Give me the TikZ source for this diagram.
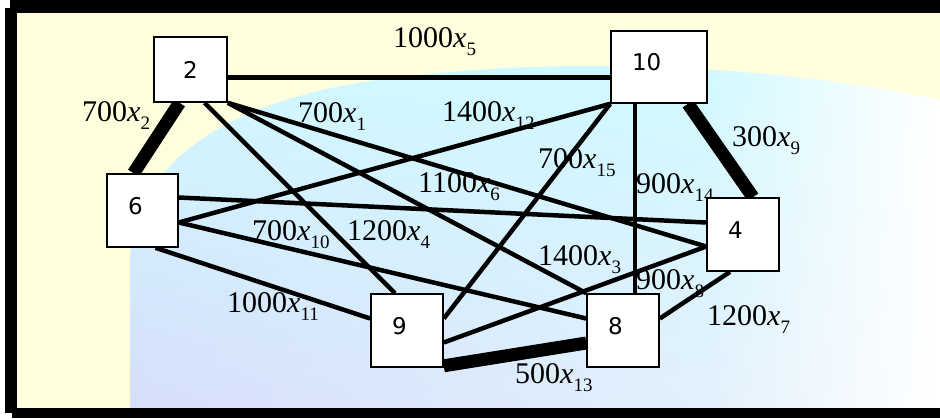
\documentclass[tikz,border=0pt]{standalone}
\usepackage{fontspec}
\setmainfont{Liberation Serif}
\newfontfamily\boxfont{DejaVu Sans}
\usepackage{tikz}
\usetikzlibrary{positioning, backgrounds, shadings}
\definecolor{paleyellow}{RGB}{255, 255, 222}
\definecolor{globecyan}{RGB}{208, 249, 255}
\definecolor{globeblue}{RGB}{214, 222, 250}
\definecolor{globemist}{RGB}{226, 240, 252}
\newcommand{\cost}[2]{#1\textit{x}\raisebox{-8pt}{\fontsize{19}{19}\selectfont #2}}

\begin{document}
\begin{tikzpicture}[x=1pt, y=-1pt,
    city/.style={rectangle, draw=black, line width=1.6pt, fill=white, inner xsep=21pt, inner ysep=0pt, text width=30pt, align=left, minimum height=73pt, text height=17pt, text depth=10pt, font=\boxfont\fontsize{23}{25}\selectfont},
    cost/.style={anchor=base west, inner sep=0pt, font=\fontsize{30}{32}\selectfont},
    line/.style={draw=black, line width=4.5pt},
    heavy/.style={draw=black, line width=13pt}]
    \useasboundingbox (0,0) rectangle (940,418);

    % edge costs
    \node [cost] (c1) at (298,122) {\cost{700}{1}};
    \node [cost] (c2) at (82,121) {\cost{700}{2}};
    \node [cost] (c3) at (538,265) {\cost{1400}{3}};
    \node [cost] (c4) at (347,240) {\cost{1200}{4}};
    \node [cost] (c5) at (393,47) {\cost{1000}{5}};
    \node [cost] (c6) at (418,192) {\cost{1100}{6}};
    \node [cost] (c7) at (707,325) {\cost{1200}{7}};
    \node [cost] (c8) at (636,289) {\cost{900}{8}};
    \node [cost] (c9) at (732,146) {\cost{300}{9}};
    \node [cost] (c10) at (252,240) {\cost{700}{10}};
    \node [cost] (c11) at (227,312) {\cost{1000}{11}};
    \node [cost] (c12) at (442,121) {\cost{1400}{12}};
    \node [cost] (c13) at (515,383) {\cost{500}{13}};
    \node [cost] (c14) at (636,193) {\cost{900}{14}};
    \node [cost] (c15) at (538,168) {\cost{700}{15}};

    % cities
    \node [city, text width=31pt, align=center, minimum height=65pt, text depth=0pt] (n2) at (190.5,69.5) {2};
    \node [city, text width=54pt, minimum height=72pt] (n10) at (659,67) {10};
    \node [city, text width=29pt] (n6) at (142.5,210.5) {6};
    \node [city] (n4) at (743,234.5) {4};
    \node [city] (n9) at (407,330.5) {9};
    \node [city, right=142.5pt of n9] (n8) {8};

    \begin{scope}[on background layer]
        \fill [white] (0,0) rectangle (940,418);
        \fill [paleyellow] (17,13) rectangle (940,408);
        \begin{scope}
            \clip (130,408) -- (130,260) .. controls (135,150) and (250,90) .. (420,75) .. controls (600,55) and (800,70) .. (940,100) -- (940,408) -- cycle;
            \fill [white] (130,40) rectangle (940,408);
            \shade [upper left=globecyan, upper right=globecyan, lower left=globeblue, lower right=globemist] (130,55) rectangle (700,408);
            \shade [upper left=globecyan, upper right=white, lower left=globemist, lower right=white] (700,55) rectangle (940,408);
        \end{scope}

        \path [line] ([yshift=-8pt]n2.east) -- ([yshift=-8pt]n2.east -| n10.west);
        \path [heavy] ([xshift=-11pt]n2.south) -- ([xshift=-9pt]n6.north);
        \path [line] ([xshift=14pt]n2.south) -- ([xshift=-12pt]n9.north);
        \path [line] (n2.south east) -- (n8.north west);
        \path [line] (n2.south east) -- ([yshift=-12pt]n4.west);
        \path [line] (n10.south west) -- ([yshift=-12pt]n6.east);
        \path [line] (n10.south west) -- ([yshift=12pt]n9.east);
        \path [line] ([xshift=-24pt]n10.south) -- ([xshift=-24pt]n10.south |- n8.north);
        \path [heavy] ([xshift=29pt]n10.south) -- ([xshift=10pt]n4.north);
        \path [line] ([yshift=13pt]n6.east) -- ([yshift=12pt]n4.west);
        \path [line] ([yshift=-12pt]n6.east) -- ([yshift=12pt]n8.west);
        \path [line] ([xshift=13pt]n6.south) -- ([yshift=12pt]n9.west);
        \path [line] ([yshift=-12pt]n9.east) -- ([yshift=-12pt]n4.west);
        \path [heavy] ([yshift=2pt]n9.south east) -- ([yshift=-12.5pt]n8.west);
        \path [line] ([yshift=12pt]n8.east) -- ([xshift=-13pt]n4.south);
    \end{scope}

    % frame
    \fill [black] (10,0) rectangle (940,13);
    \fill [black] (5,8) rectangle (17,413);
    \fill [black] (12,408) rectangle (940,418);
\end{tikzpicture}
\end{document}
